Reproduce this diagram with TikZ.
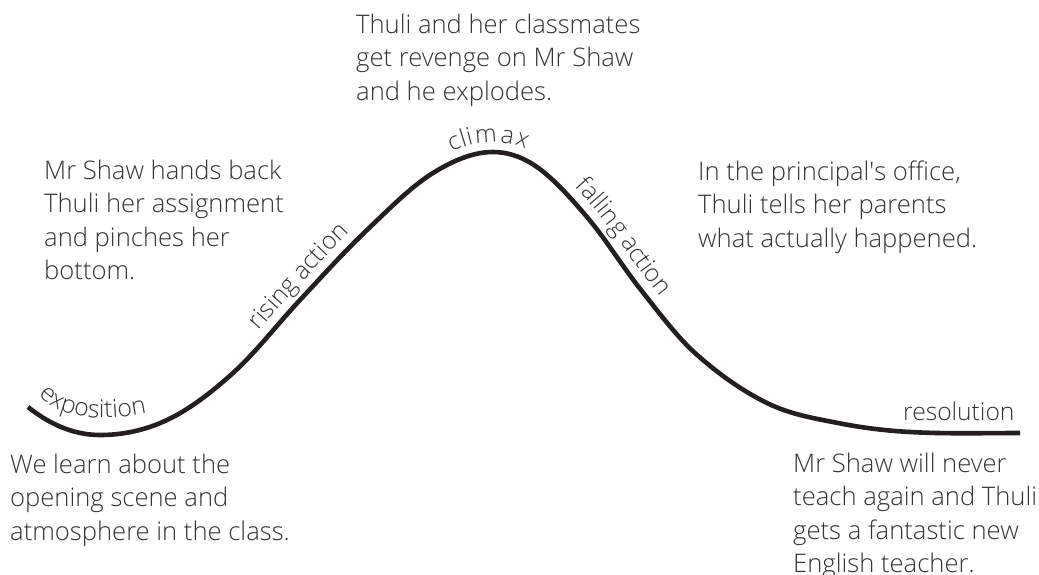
\documentclass[tikz,border=0pt]{standalone}
\usepackage{fontspec}
\IfFontExistsTF{Open Sans Light}{\setmainfont{Open Sans Light}}{\setmainfont{Open Sans}}
\usetikzlibrary{decorations.text}
\definecolor{ink}{HTML}{231F20}
\definecolor{txt}{HTML}{333333}
\newcommand{\blk}[1]{\begin{tabular}[t]{@{}l@{}}#1\end{tabular}}
\newcommand{\lblfont}{\fontsize{24.6}{24.6}\selectfont\color{txt}}
\begin{document}
\begin{tikzpicture}[x=1pt,y=-1pt,
  body/.style={font=\fontsize{25.6}{33.5}\selectfont, text=txt, inner sep=0pt, anchor=base west},
  arc/.style={draw=ink, line width=4.6pt}]
\useasboundingbox (0,0) rectangle (1039,574);
% key points on the curve
\coordinate (k0) at (28,407);
\coordinate (k1) at (100,435);
\coordinate (k2) at (167,420);
\coordinate (k3) at (233,373);
\coordinate (k4) at (300,300);
\coordinate (k5) at (367,230);
\coordinate (k6) at (433,173);
\coordinate (k7) at (493,152);
\coordinate (k8) at (534,165);
\coordinate (k9) at (587,217);
\coordinate (k10) at (641,290);
\coordinate (k11) at (695,353);
\coordinate (k12) at (767,403);
\coordinate (k13) at (838,423);
\coordinate (k14) at (910,432);
\coordinate (k15) at (1020,433);
% baseline of the exposition label
\coordinate (e0) at (37,394);
\coordinate (e1) at (160,410);
% the story arc
\draw[arc] (k0) .. controls (52,426.2) and (76,435) .. (k1)
  .. controls (122.3,435) and (144.7,430.5) .. (k2)
  .. controls (189,409.7) and (211,392.8) .. (k3)
  .. controls (255.3,352.9) and (277.7,323.9) .. (k4)
  .. controls (322.3,276.1) and (344.7,251.2) .. (k5)
  .. controls (389,209.1) and (411,186.6) .. (k6)
  .. controls (453,160.6) and (473,152) .. (k7)
  .. controls (506.7,152) and (520.3,156.1) .. (k8)
  .. controls (551.7,176.5) and (569.3,196.3) .. (k9)
  .. controls (605,238.1) and (623,267.3) .. (k10)
  .. controls (659,312.7) and (677,336.8) .. (k11)
  .. controls (719,374.6) and (743,391.2) .. (k12)
  .. controls (790.7,414.6) and (814.3,418.3) .. (k13)
  .. controls (862,427.8) and (886,430.7) .. (k14)
  .. controls (946.7,434) and (983.3,433) .. (k15);
% labels along the arc
\path[decorate, decoration={text along path, raise=0pt, text align={left indent=2pt},
  text={|\lblfont|exposition}}]
  (e0) .. controls (57,417) and (97,425) .. (e1);
\path[decorate, decoration={text along path, raise=10.5pt, text align={left indent=49pt},
  text={|\lblfont|rising action}}]
  (k3) .. controls (255.3,352.9) and (277.7,323.9) .. (k4)
  .. controls (322.3,276.1) and (344.7,251.2) .. (k5);
\path[decorate, decoration={text along path, raise=10pt, text align={left indent=25pt},
  text={|\lblfont|climax}}]
  (k6) .. controls (453,160.6) and (473,152) .. (k7)
  .. controls (506.7,152) and (520.3,156.1) .. (k8)
  .. controls (551.7,176.5) and (569.3,196.3) .. (k9);
\path[decorate, decoration={text along path, raise=11pt, text align={left indent=44pt},
  text={|\lblfont|falling action}}]
  (k8) .. controls (551.7,176.5) and (569.3,196.3) .. (k9)
  .. controls (605,238.1) and (623,267.3) .. (k10)
  .. controls (659,312.7) and (677,336.8) .. (k11);
\node[inner sep=0pt, anchor=base west, font=\lblfont] (res) at (903,420) {resolution};
% story text
\node[body] (climaxtxt) at (356,33) {\blk{Thuli and her classmates\\get revenge on Mr Shaw\\and he explodes.}};
\node[body] (risingtxt) at (44,179) {\blk{Mr Shaw hands back\\Thuli her assignment\\and pinches her\\bottom.}};
\node[body] (fallingtxt) at (698,180) {\blk{In the principal\textquotesingle s office,\\Thuli tells her parents\\what actually happened.}};
\node[body] (expotxt) at (10,473) {\blk{We learn about the\\opening scene and\\atmosphere in the class.}};
\node[body] (resotxt) at (793,472) {\blk{Mr Shaw will never\\teach again and Thuli\\gets a fantastic new\\English teacher.}};
\end{tikzpicture}
\end{document}
